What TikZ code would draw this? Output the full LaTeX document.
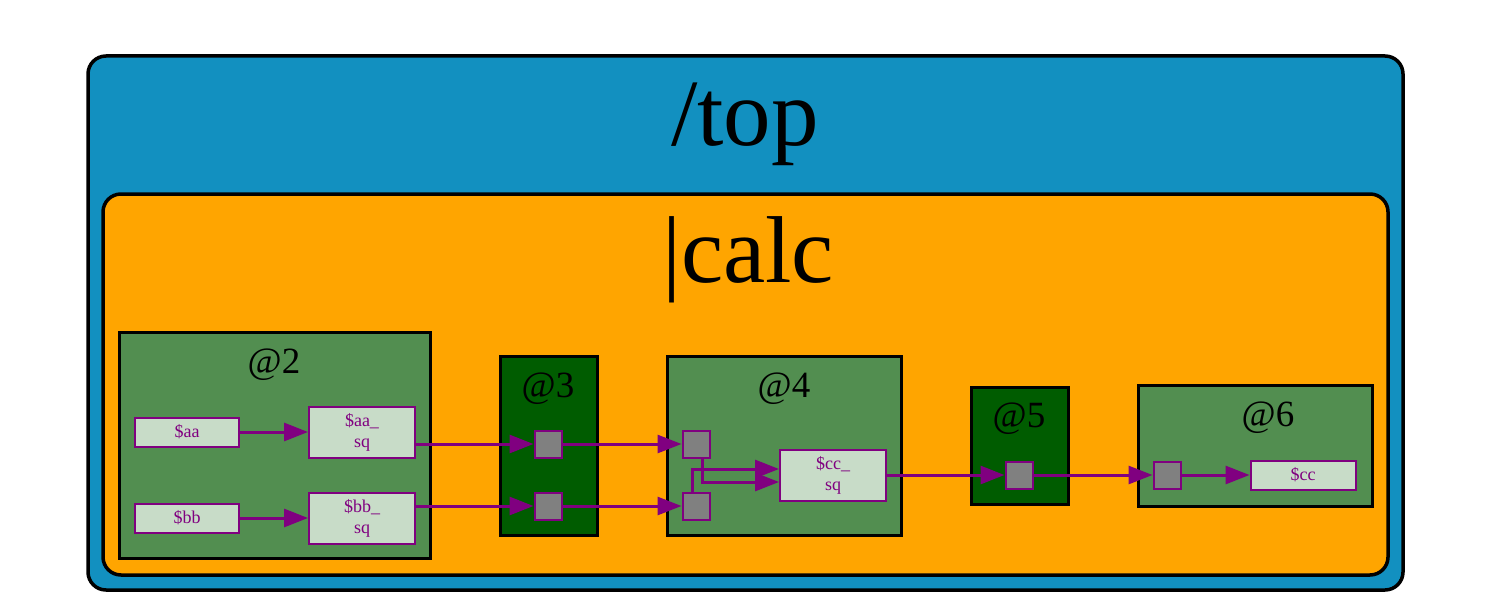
\documentclass[tikz,border=0pt]{standalone}
\usepackage{fontspec}
\setmainfont{Liberation Serif}
\usetikzlibrary{arrows.meta}
\definecolor{topblue}{RGB}{18,144,192}
\definecolor{calcorange}{RGB}{255,165,0}
\definecolor{midgreen}{RGB}{82,142,80}
\definecolor{darkgreen}{RGB}{0,92,0}
\definecolor{nodefill}{RGB}{200,220,200}
\definecolor{edgepurple}{RGB}{128,0,128}
\definecolor{portgray}{RGB}{128,128,128}
\tikzset{
  outerbox/.style={draw=black, line width=3.5pt, rounded corners=18pt},
  clusterbox/.style={draw=black, line width=3pt},
  varnode/.style={draw=edgepurple, line width=2pt, fill=nodefill, text=edgepurple, inner sep=0pt, font=\fontsize{18}{21}\selectfont, align=center},
  portnode/.style={draw=edgepurple, line width=2pt, fill=portgray, minimum size=27pt, inner sep=0pt},
  conn/.style={draw=edgepurple, line width=3pt, -{Triangle[length=24pt,width=18pt]}},
  bigtitle/.style={font=\fontsize{95}{100}\selectfont, anchor=base},
  cltitle/.style={font=\fontsize{37}{40}\selectfont, anchor=base}
}
\begin{document}
\begin{tikzpicture}[x=1pt,y=-1pt]
\useasboundingbox (0,0) rectangle (1490,615);
\fill[white] (0,0) rectangle (1490,615);
% outer boxes
\draw[outerbox, fill=topblue] (88,56) rectangle (1403,590);
\node[bigtitle] (ttop) at (745,145) {/top};
\draw[outerbox, fill=calcorange] (103,194) rectangle (1388,575);
\node[bigtitle] (tcalc) at (748,282) {|calc};
% clusters
\draw[clusterbox, fill=midgreen] (119,332) rectangle (430,558);
\node[cltitle] (t2) at (274,373) {@2};
\draw[clusterbox, fill=darkgreen] (500,356) rectangle (597,535);
\node[cltitle] (t3) at (548,397) {@3};
\draw[clusterbox, fill=midgreen] (667,356) rectangle (901,535);
\node[cltitle] (t4) at (784,397) {@4};
\draw[clusterbox, fill=darkgreen] (971,387) rectangle (1068,504);
\node[cltitle] (t5) at (1019,427) {@5};
\draw[clusterbox, fill=midgreen] (1138,385) rectangle (1372,506);
\node[cltitle] (t6) at (1268,426) {@6};
% nodes
\node[varnode, minimum width=104pt, minimum height=29pt] (aa) at (187,432) {\$aa};
\node[varnode, minimum width=106pt, minimum height=51pt] (aasq) at (362,432) {\$aa\_\\sq};
\node[varnode, minimum width=104pt, minimum height=29pt] (bb) at (187,518) {\$bb};
\node[varnode, minimum width=106pt, minimum height=51pt] (bbsq) at (362,518) {\$bb\_\\sq};
\node[portnode] (p3a) at (548,444) {};
\node[portnode] (p3b) at (548,506) {};
\node[portnode] (p4a) at (696,444) {};
\node[portnode] (p4b) at (696,506) {};
\node[varnode, minimum width=106pt, minimum height=51pt] (ccsq) at (833,475) {\$cc\_\\sq};
\node[portnode] (p5) at (1019,475) {};
\node[portnode] (p6) at (1167,475) {};
\node[varnode, minimum width=105pt, minimum height=29pt] (cc) at (1303,475) {\$cc};
% connectors
\draw[conn] (aa) -- (aasq);
\draw[conn] (bb) -- (bbsq);
\draw[conn] (aasq.east |- p3a) -- (p3a);
\draw[conn] (bbsq.east |- p3b) -- (p3b);
\draw[conn] (p3a) -- (p4a);
\draw[conn] (p3b) -- (p4b);
\draw[conn] ([xshift=6pt]p4a.south) |- ([yshift=-7pt]ccsq.west);
\draw[conn] ([xshift=-4pt]p4b.north) |- ([yshift=6pt]ccsq.west);
\draw[conn] (ccsq) -- (p5);
\draw[conn] (p5) -- (p6);
\draw[conn] (p6) -- (cc);
\end{tikzpicture}
\end{document}
